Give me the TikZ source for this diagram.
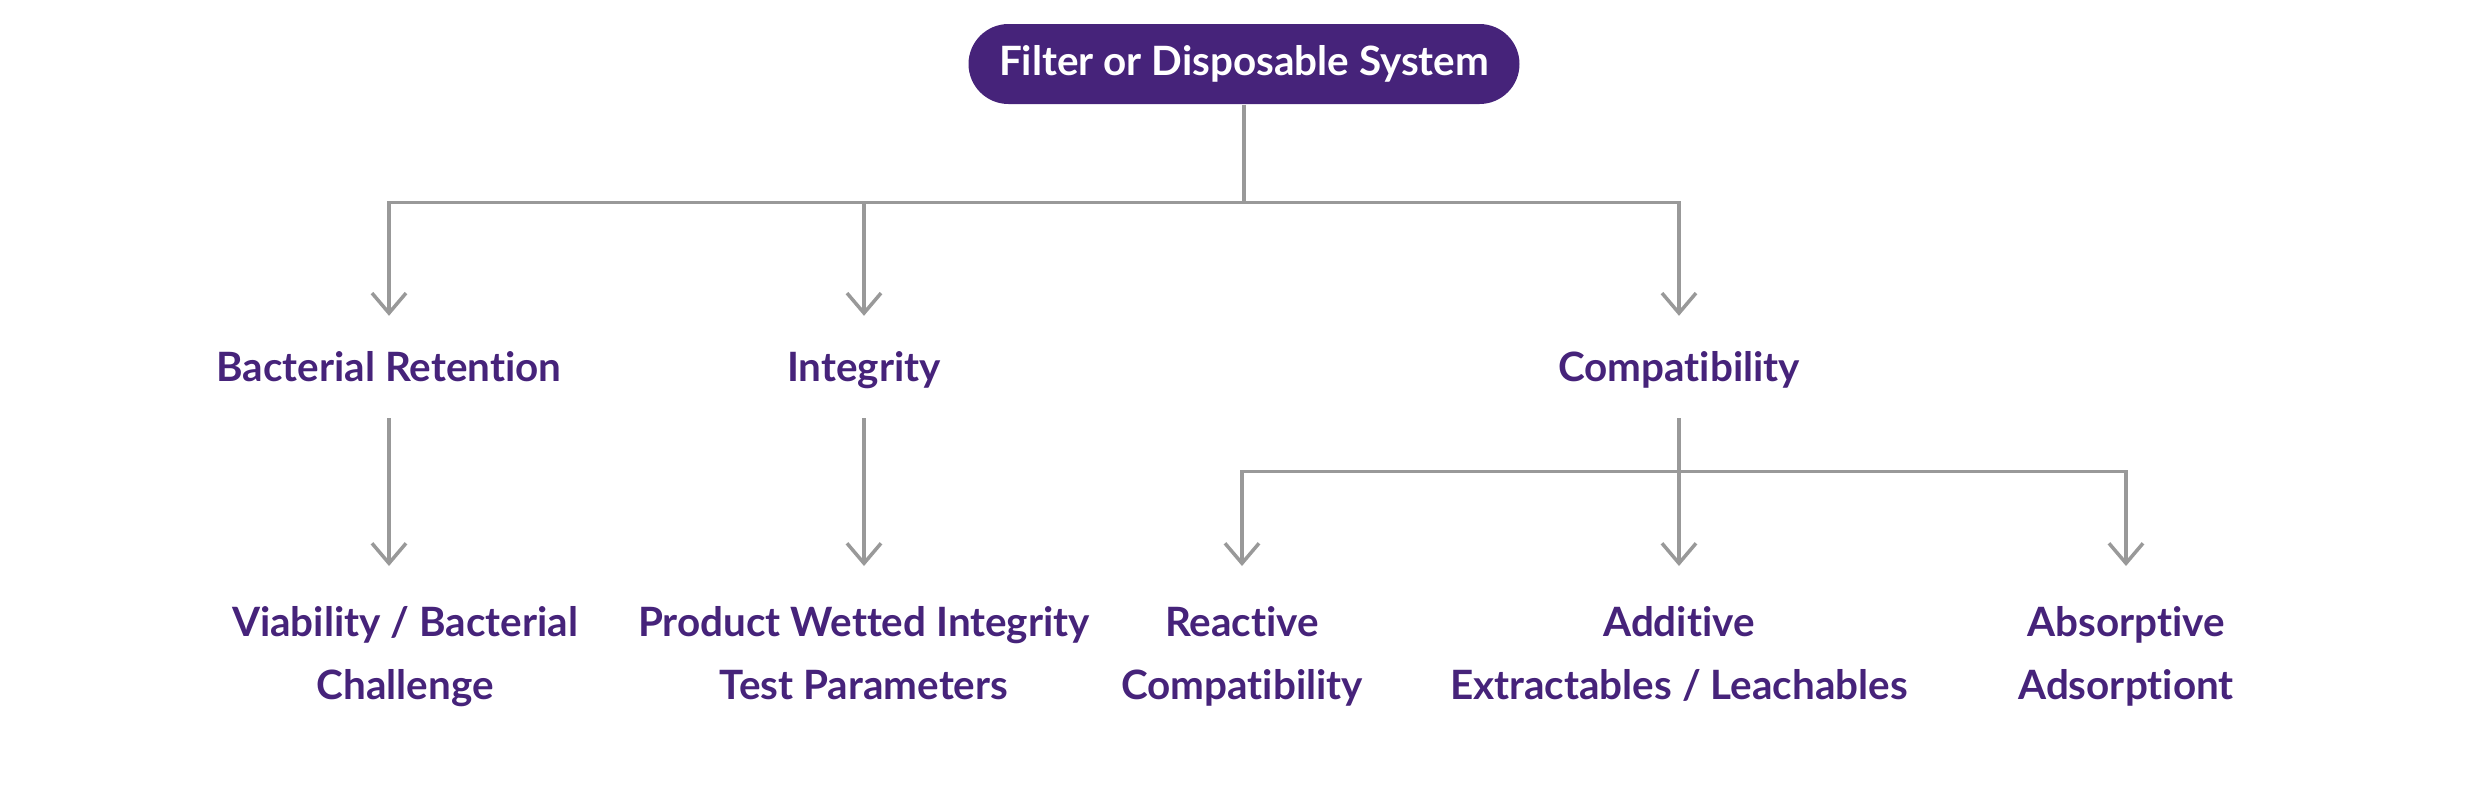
\documentclass[tikz,border=0pt]{standalone}
\usepackage{fontspec}
\setmainfont{Lato}[Ligatures=NoCommon]
\usetikzlibrary{arrows.meta}
\definecolor{plum}{HTML}{46237A}
\definecolor{wire}{HTML}{999999}

\begin{document}
\begin{tikzpicture}[>={Straight Barb[length=2mm,width=3.4mm]},line join=miter,
  every node/.style={font=\fontsize{11.5}{17.9}\selectfont\bfseries,text=plum},
  head/.style={fill=plum,text=white,rounded corners=0.4cm,minimum width=5.51cm,minimum height=0.8cm,inner sep=0pt},
  topic/.style={text height=0.29cm,text depth=0pt,inner ysep=0.36cm},
  leaf/.style={align=center,anchor=north,inner ysep=0.40cm},
  link/.style={draw=wire,line width=1pt}]
\useasboundingbox (0,0) rectangle (24.81,-7.90);
\coordinate (bus) at (12.44,-2.025);
\coordinate (fork) at (16.79,-4.715);
\node[head] (sys) at (12.44,-0.64) {Filter or Disposable System};
\node[topic] (bact) at (3.89,-3.67) {Bacterial Retention};
\node[topic] (integ) at (8.64,-3.67) {Integrity};
\node[topic] (compat) at (16.79,-3.67) {Compatibility};
\node[leaf] (viab) at (4.05,-5.66) {Viability / Bacterial\\Challenge};
\node[leaf] (wet) at (8.64,-5.66) {Product Wetted Integrity\\Test Parameters};
\node[leaf] (react) at (12.42,-5.66) {Reactive\\Compatibility};
\node[leaf] (addit) at (16.79,-5.66) {Additive\\Extractables / Leachables};
\node[leaf] (absorb) at (21.26,-5.66) {Absorptive\\Adsorptiont};
% first level
\draw[link] (sys.south) -- (bus);
\draw[link,->] (bus) -| (bact.north);
\draw[link,->] (bus) -| (integ.north);
\draw[link,->] (bus) -| (compat.north);
% second level
\draw[link,->] (bact.south) -- (bact.south |- viab.north);
\draw[link,->] (integ.south) -- (wet.north);
\draw[link,->] (compat.south) -- (addit.north);
\draw[link,->] (fork) -| (react.north);
\draw[link,->] (fork) -| (absorb.north);
\end{tikzpicture}
\end{document}
